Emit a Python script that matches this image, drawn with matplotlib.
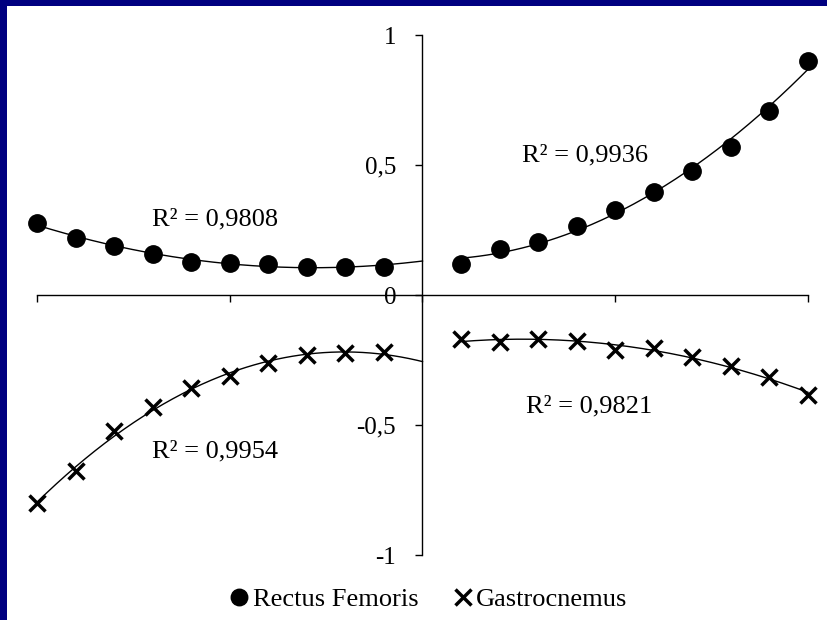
import numpy as np
import matplotlib
matplotlib.use("Agg")
import matplotlib.pyplot as plt
from matplotlib.patches import Rectangle
from matplotlib.ticker import FuncFormatter

# ---------------- data ----------------
left_x = [-100, -90, -80, -70, -60, -50, -40, -30, -20, -10]
right_x = [10, 20, 30, 40, 50, 60, 70, 80, 90, 100]

rf_left = [0.278, 0.218, 0.188, 0.158, 0.128, 0.124, 0.118, 0.109, 0.109, 0.109]
rf_right = [0.118, 0.176, 0.203, 0.265, 0.327, 0.395, 0.477, 0.570, 0.709, 0.901]
ga_left = [-0.801, -0.676, -0.523, -0.430, -0.359, -0.312, -0.263, -0.231, -0.224, -0.218]
ga_right = [-0.169, -0.182, -0.169, -0.176, -0.212, -0.203, -0.237, -0.272, -0.317, -0.385]

r2_labels = ["R² = 0,9808", "R² = 0,9936", "R² = 0,9954", "R² = 0,9821"]
series_names = ["Rectus Femoris", "Gastrocnemus"]
y_ticks = [-1, -0.5, 0, 0.5, 1]
x_ticks = [-100, -50, 0, 50, 100]

# ---------------- figure ----------------
plt.rcParams['font.family'] = ['Liberation Serif', 'DejaVu Serif']
W, H = 828, 620
fig = plt.figure(figsize=(W / 100, H / 100), dpi=100, facecolor='white')

# blue frame (left and top bands)
fig.patches.append(Rectangle((0, 0), 7 / W, 1, transform=fig.transFigure,
                             facecolor='#000080', edgecolor='none', zorder=0))
fig.patches.append(Rectangle((0, 1 - 6 / H), 1, 6 / H, transform=fig.transFigure,
                             facecolor='#000080', edgecolor='none', zorder=0))

left, right = 37 / W, 808 / W
top, bottom = 1 - 35 / H, 1 - 555 / H
ax = fig.add_axes([left, bottom, right - left, top - bottom])
ax.set_facecolor('none')
ax.set_xlim(-100, 100)
ax.set_ylim(-1, 1)

for s in ['top', 'right']:
    ax.spines[s].set_visible(False)
ax.spines['left'].set_position(('data', 0))
ax.spines['bottom'].set_position(('data', 0))
for s in ['left', 'bottom']:
    ax.spines[s].set_linewidth(1.0)
    ax.spines[s].set_color('black')

ax.set_yticks(y_ticks)
ax.yaxis.set_major_formatter(FuncFormatter(lambda v, p: ('%g' % v).replace('.', ',')))
ax.set_xticks(x_ticks)
ax.set_xticklabels([])
ax.tick_params(axis='y', direction='out', length=5, width=1.0, labelsize=18, pad=14)
ax.tick_params(axis='x', direction='out', length=5, width=1.0)

msize_c = 12.5
msize_x = 11.5
mew_x = 2.5


def trend(xs, ys, x0, x1):
    c = np.polyfit(xs, ys, 2)
    xx = np.linspace(x0, x1, 200)
    ax.plot(xx, np.polyval(c, xx), color='black', lw=1.0, zorder=2, clip_on=False)


trend(left_x, rf_left, -100, 0)
trend(right_x, rf_right, 10, 100)
trend(left_x, ga_left, -100, 0)
trend(right_x, ga_right, 10, 100)

h1, = ax.plot(left_x, rf_left, 'o', color='black', ms=msize_c, zorder=3, clip_on=False)
ax.plot(right_x, rf_right, 'o', color='black', ms=msize_c, zorder=3, clip_on=False)
h2, = ax.plot(left_x, ga_left, 'x', color='black', ms=msize_x, mew=mew_x, zorder=3, clip_on=False)
ax.plot(right_x, ga_right, 'x', color='black', ms=msize_x, mew=mew_x, zorder=3, clip_on=False)

# R² labels (pixel positions converted to figure fraction)
label_pos = [(152, 219), (522, 155), (152, 451), (526, 406)]
for txt, (px, py) in zip(r2_labels, label_pos):
    fig.text(px / W, 1 - py / H, txt, ha='left', va='center', fontsize=19)

leg = fig.legend([h1, h2], series_names, loc='center', ncol=2,
                 bbox_to_anchor=(427 / W, 1 - 599 / H), frameon=False,
                 fontsize=19, handletextpad=0.0, columnspacing=1.2,
                 handlelength=1.0, markerscale=0.95)

fig.savefig('out.png', dpi=100, facecolor='white')
